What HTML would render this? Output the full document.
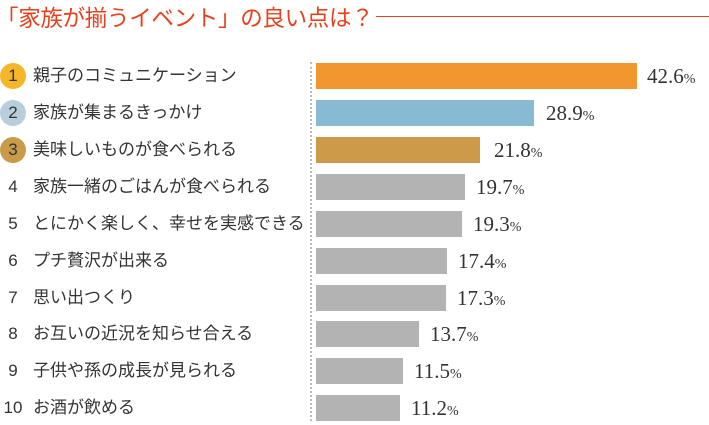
<!DOCTYPE html>
<html><head><meta charset="utf-8"><style>
body{margin:0;width:709px;height:421px;background:#fff;position:relative;overflow:hidden;font-family:"Liberation Sans","Noto Sans CJK JP",sans-serif;}
.t{position:absolute;left:-4px;top:1px;font-size:22.5px;color:#e8401c;white-space:nowrap;letter-spacing:-0.3px}
.hl{position:absolute;left:376px;top:16px;width:333px;height:1px;background:#e8401c}
.dot{position:absolute;left:310px;top:62px;height:359px;border-left:2px dotted #bbb}
.row{position:absolute;left:0;height:26px;width:709px}
.c{position:absolute;left:0;top:0;width:26px;height:26px;border-radius:50%;text-align:center;line-height:26px;font-size:17px;color:#333}
.l{position:absolute;left:33px;top:0;line-height:26px;font-size:17px;color:#333;white-space:nowrap;letter-spacing:0px}
.b{position:absolute;left:316px;top:0;height:26px;background:#b3b3b3}
.v{position:absolute;top:0;line-height:26px;font-family:"Liberation Serif",serif;font-size:21px;color:#333;white-space:nowrap}
.v small{font-size:14px}
</style></head><body>
<div class="t">「家族が揃うイベント」の良い点は？</div>
<div class="hl"></div>
<div class="dot"></div>

<div class="row" style="top:63px"><div class="c" style="background:#f6b62a">1</div><div class="l">親子のコミュニケーション</div><div class="b" style="width:321px;background:#f2972d"></div><div class="v" style="left:647px">42.6<small>%</small></div></div>
<div class="row" style="top:100px"><div class="c" style="background:#b7cfdc">2</div><div class="l">家族が集まるきっかけ</div><div class="b" style="width:218px;background:#89bad3"></div><div class="v" style="left:546px">28.9<small>%</small></div></div>
<div class="row" style="top:137px"><div class="c" style="background:#c99a48">3</div><div class="l">美味しいものが食べられる</div><div class="b" style="width:164px;background:#cc9a48"></div><div class="v" style="left:494px">21.8<small>%</small></div></div>
<div class="row" style="top:174px"><div class="c">4</div><div class="l">家族一緒のごはんが食べられる</div><div class="b" style="width:149px"></div><div class="v" style="left:476px">19.7<small>%</small></div></div>
<div class="row" style="top:211px"><div class="c">5</div><div class="l">とにかく楽しく、幸せを実感できる</div><div class="b" style="width:146px"></div><div class="v" style="left:473px">19.3<small>%</small></div></div>
<div class="row" style="top:248px"><div class="c">6</div><div class="l">プチ贅沢が出来る</div><div class="b" style="width:131px"></div><div class="v" style="left:458px">17.4<small>%</small></div></div>
<div class="row" style="top:285px"><div class="c">7</div><div class="l">思い出つくり</div><div class="b" style="width:130px"></div><div class="v" style="left:457px">17.3<small>%</small></div></div>
<div class="row" style="top:321px"><div class="c">8</div><div class="l">お互いの近況を知らせ合える</div><div class="b" style="width:103px"></div><div class="v" style="left:430px">13.7<small>%</small></div></div>
<div class="row" style="top:358px"><div class="c">9</div><div class="l">子供や孫の成長が見られる</div><div class="b" style="width:87px"></div><div class="v" style="left:414px">11.5<small>%</small></div></div>
<div class="row" style="top:395px"><div class="c">10</div><div class="l">お酒が飲める</div><div class="b" style="width:84px"></div><div class="v" style="left:411px">11.2<small>%</small></div></div>
</body></html>
